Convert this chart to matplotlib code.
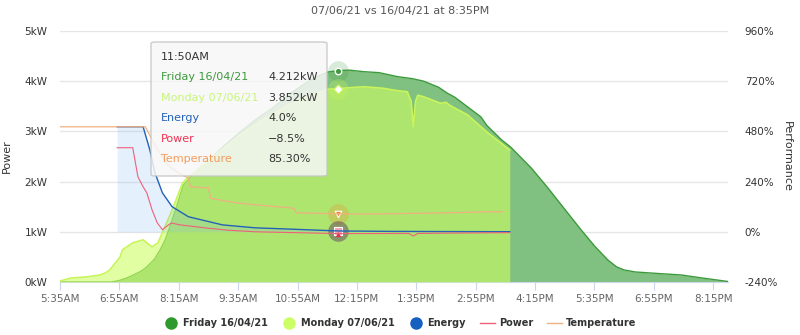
import matplotlib.pyplot as plt
from matplotlib.patches import FancyBboxPatch
from matplotlib.lines import Line2D
import numpy as np

# Friday 16/04/21 power (kW)
fri_t = ["05:35", "06:45", "06:55", "07:05", "07:14", "07:25", "07:32", "07:42", "07:50", "07:57",
         "08:03", "08:12", "08:21", "08:35", "08:53", "09:15", "09:38", "10:00", "10:22", "10:45",
         "11:05", "11:20", "11:35", "11:50", "12:05", "12:24", "12:45", "13:10", "13:30", "13:45",
         "14:05", "14:17", "14:27", "14:44", "15:02", "15:10", "15:30", "15:42", "16:10", "16:32",
         "16:55", "17:17", "17:35", "17:53", "18:05", "18:15", "18:30", "19:00", "19:32", "20:00", "20:35"]
fri_kw = [0, 0, 0.03, 0.08, 0.14, 0.22, 0.30, 0.45, 0.64, 0.85,
          1.10, 1.50, 1.93, 2.15, 2.39, 2.70, 2.99, 3.25, 3.47, 3.75,
          3.95, 4.08, 4.18, 4.212, 4.22, 4.19, 4.17, 4.09, 4.05, 4.00,
          3.88, 3.76, 3.68, 3.49, 3.29, 3.12, 2.83, 2.69, 2.27, 1.88,
          1.45, 1.04, 0.72, 0.44, 0.30, 0.24, 0.20, 0.17, 0.14, 0.08, 0.01]

# Monday 07/06/21 power (kW)
mon_t = ["05:35", "05:50", "06:10", "06:29", "06:36", "06:42", "06:56", "06:59", "07:13", "07:27",
         "07:39", "07:47", "08:06", "08:20", "08:28", "08:45", "09:10", "09:40", "10:10", "10:40",
         "11:10", "11:35", "11:50", "12:05", "12:24", "12:50", "13:10", "13:23", "13:28", "13:31",
         "13:34", "13:37", "13:45", "14:08", "14:15", "14:20", "14:44", "15:10", "15:41"]
mon_kw = [0.02, 0.08, 0.10, 0.14, 0.18, 0.24, 0.50, 0.64, 0.78, 0.84,
          0.70, 0.78, 1.43, 1.97, 2.09, 2.30, 2.60, 2.95, 3.25, 3.50,
          3.70, 3.84, 3.852, 3.87, 3.89, 3.86, 3.81, 3.79, 3.60, 3.09,
          3.60, 3.72, 3.69, 3.56, 3.58, 3.52, 3.33, 2.99, 2.63]

# performance series (%)
en_t = ["06:52", "07:27", "07:36", "07:43", "07:53", "08:06", "08:28", "09:14", "09:58", "11:06",
        "11:50", "13:00", "14:30", "15:41"]
en_pct = [502, 502, 392, 282, 186, 120, 72, 33, 19, 10, 4, 2, 1, 0.5]

pw_t = ["06:52", "07:13", "07:20", "07:27", "07:32", "07:39", "07:46", "07:53", "08:00", "08:05",
        "08:17", "08:50", "09:20", "09:58", "11:06", "11:50", "13:25", "13:31", "13:37", "14:30", "15:41"]
pw_pct = [402, 402, 263, 215, 186, 105, 43, 10, 30, 42,
          33, 19, 8, 0, -5, -8.5, -8, -20, -8, -6, -4]

tp_t = ["05:35", "07:30", "07:45", "08:00", "08:15", "08:25", "08:28", "08:31", "08:55", "08:58",
        "09:30", "09:58", "10:43", "10:50", "10:53", "11:50", "12:30", "13:30", "14:30", "15:00", "15:31"]
tp_pct = [502, 502, 400, 320, 280, 262, 258, 215, 210, 160,
          140, 129, 115, 112, 91, 86, 85, 88, 92, 95, 96]


def mins(lst):
    return np.array([int(s[:2]) * 60 + int(s[3:]) for s in lst])


def fmt(m):
    h, mm = divmod(int(m), 60)
    suf = "AM" if h < 12 else "PM"
    h12 = h % 12 or 12
    return f"{h12}:{mm:02d}{suf}"


fig = plt.figure(figsize=(8, 3.35), dpi=100)
ax = fig.add_axes([60 / 800, 53 / 335, 668 / 800, 251 / 335])
ax2 = ax.twinx()

FRI_LINE = "#3d9a3d"
MON_LINE = "#c8f55a"
EN_COL = "#2462b8"
PW_COL = "#f0607a"
TP_COL = "#f0b080"

ft, mt = mins(fri_t), mins(mon_t)
ax.fill_between(ft, fri_kw, color="#80c080", lw=0, zorder=2)
ax.plot(ft, fri_kw, color=FRI_LINE, lw=1, zorder=3)
ax.fill_between(mt, mon_kw, color="#cdff64", alpha=0.6, lw=0, zorder=4)
ax.plot(mt, mon_kw, color=MON_LINE, lw=1.2, zorder=5)

et = mins(en_t)
ax2.fill_between(et, en_pct, 0, color="#7cb5ec", alpha=0.2, lw=0)
ax2.plot(et, en_pct, color=EN_COL, lw=1)
ax2.plot(mins(pw_t), pw_pct, color=PW_COL, lw=0.8)
ax2.plot(mins(tp_t), tp_pct, color=TP_COL, lw=0.9)

# hover markers at 11:50
hx = 11 * 60 + 50
ax.scatter([hx], [4.212], s=220, color=FRI_LINE, alpha=0.2, lw=0, zorder=6)
ax.scatter([hx], [4.212], s=22, color=FRI_LINE, edgecolor="white", lw=1, zorder=7)
ax.scatter([hx], [3.852], s=220, color=MON_LINE, alpha=0.3, lw=0, zorder=6)
ax.scatter([hx], [3.852], s=22, marker="D", color="white", edgecolor=MON_LINE, lw=0.8, zorder=7)
ax2.scatter([hx], [85.3], s=220, color="#e0a040", alpha=0.35, lw=0)
ax2.scatter([hx], [85.3], s=22, marker="v", color="#f08040", edgecolor="white", lw=0.8)
ax2.scatter([hx], [4.0], s=220, color="#5a3060", alpha=0.45, lw=0)
ax2.scatter([hx], [4.0], s=30, marker="s", color="#f0a0b0", edgecolor="white", lw=0.8)
ax2.scatter([hx], [-8.5], s=14, marker="^", color="#e03050", lw=0)

# axes styling
ax.set_xlim(335, 1235)
ax.set_ylim(0, 5)
ax2.set_ylim(-240, 960)
xt = np.arange(335, 1236, 80)
ax.set_xticks(xt)
ax.set_xticklabels([fmt(m) for m in xt])
ax.set_yticks(range(6))
ax.set_yticklabels([f"{v}kW" for v in range(6)])
ax2.set_yticks(range(-240, 961, 240))
ax2.set_yticklabels([f"{v}%" for v in range(-240, 961, 240)])
ax.grid(axis="y", color="#e6e6e6", lw=1)
ax.set_axisbelow(True)
for a in (ax, ax2):
    for s in ("top", "left", "right"):
        a.spines[s].set_visible(False)
    a.spines["bottom"].set_color("#ccd6eb")
ax2.spines["bottom"].set_visible(False)
ax.tick_params(axis="x", colors="#ccd6eb", length=6, labelcolor="#666666", labelsize=7.5, pad=3)
ax.tick_params(axis="y", length=0, labelcolor="#333333", labelsize=7.5, pad=9)
ax2.tick_params(axis="y", length=0, labelcolor="#333333", labelsize=7.5, pad=12)
ax.set_ylabel("Power", fontsize=8, color="#333333")
ax.yaxis.set_label_coords(-0.072, 0.5)
ax2.set_ylabel("Performance", fontsize=8, color="#333333", rotation=270, va="center")
ax2.yaxis.set_label_coords(1.088, 0.5)

fig.text(0.5, 1 - 11 / 335, "07/06/21 vs 16/04/21 at 8:35PM", ha="center", va="center",
         fontsize=8, color="#555555")

# tooltip
box = FancyBboxPatch((151 / 800, 1 - 176 / 335), 176 / 800, 134 / 335,
                     boxstyle="round,pad=0,rounding_size=0.005", transform=fig.transFigure,
                     facecolor="#f7f7f7", edgecolor="#c4c4c4", lw=1, alpha=0.85, zorder=10)
fig.add_artist(box)
fig.text(161 / 800, 1 - 57 / 335, "11:50AM", fontsize=8, color="#333333", va="center", zorder=11)
rows = [("Friday 16/04/21", "4.212kW", "#3d9a3d"),
        ("Monday 07/06/21", "3.852kW", "#c8f57a"),
        ("Energy", "4.0%", "#2462b8"),
        ("Power", "\u22128.5%", "#f03050"),
        ("Temperature", "85.30%", "#f59b5a")]
for i, (lab, val, c) in enumerate(rows):
    yy = 1 - (77 + i * 20.5) / 335
    fig.text(161 / 800, yy, lab, fontsize=8, color=c, va="center", zorder=11)
    fig.text(268 / 800, yy, val, fontsize=8, color="#333333", va="center", zorder=11)

# legend
handles = [
    Line2D([], [], ls="", marker="o", ms=8, color="#2e9a2e"),
    Line2D([], [], ls="", marker="o", ms=8, color="#ccff66"),
    Line2D([], [], ls="", marker="o", ms=8, color="#1660c0"),
    Line2D([], [], color=PW_COL, lw=1),
    Line2D([], [], color=TP_COL, lw=1),
]
labels = ["Friday 16/04/21", "Monday 07/06/21", "Energy", "Power", "Temperature"]
fig.legend(handles, labels, loc="center", bbox_to_anchor=(0.5, 1 - 323 / 335), ncol=5,
           frameon=False, prop={"size": 7, "weight": "bold"}, labelcolor="#333333",
           handlelength=1.6, handletextpad=0.4, columnspacing=1.4)

fig.savefig("out.png", dpi=100)
